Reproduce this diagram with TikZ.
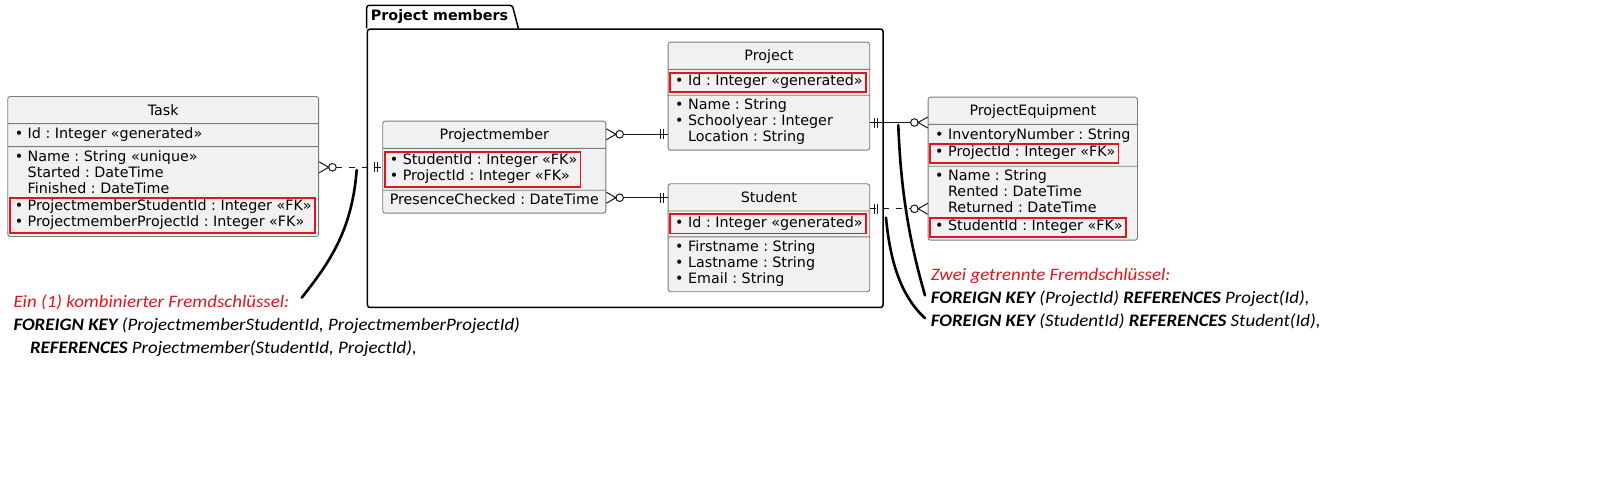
\documentclass[tikz,border=0pt]{standalone}
\usepackage{fontspec}
\setmainfont{DejaVu Sans}
\newfontfamily\notefont[FakeStretch=1.08]{Carlito}
\usetikzlibrary{shapes.multipart, positioning, calc}

\definecolor{boxfill}{HTML}{F1F1F1}
\definecolor{boxline}{HTML}{7A7A7A}
\definecolor{fkred}{HTML}{E3141C}
\definecolor{linkcol}{HTML}{181818}

\frenchspacing
\newcommand\mandatory[1]{\strut\makebox[13pt][l]{\textbullet}#1}
\newcommand\optional[1]{\strut\hspace*{13pt}#1}
\newcommand\plainrow[1]{\strut#1}
\newcommand\etitle[1]{\rule[-5pt]{0pt}{20.3pt}#1}
\newcommand\fkframe[1]{\hspace*{-5.7pt}{\fboxrule=1.8pt\fboxsep=0.7pt%
  \setbox0=\hbox{\fcolorbox{fkred}{boxfill}{\hspace*{3.2pt}\begin{tabular}[t]{@{}l@{}}#1\end{tabular}\hspace*{1.5pt}}}%
  \ht0=\dimexpr\ht0-1pt\relax \dp0=\dimexpr\dp0-1pt\relax \box0}\hspace*{-4pt}}

\tikzset{%
  entity/.style = {rectangle split, rectangle split parts=3, draw=boxline, fill=boxfill,
    line width=0.9pt, rounded corners=2.5pt, inner xsep=7pt, inner ysep=3pt, align=left,
    rectangle split part align={center,left,left},
    font={\fontsize{14.3}{16}\selectfont\lineskip=0pt}, anchor=north west},
  package/.style = {draw, line width=1.5pt, rounded corners=2.5pt, anchor=north west},
  link/.style = {draw=linkcol, line width=1pt},
  weak/.style = {link, dash pattern=on 6pt off 7pt},
  manystart/.style = {shorten <=17pt},
  manyend/.style = {shorten >=17pt},
  remark/.style = {draw, line width=2.6pt, line cap=round},
  note/.style = {font={\notefont\fontsize{17.5}{22}\selectfont\itshape}, inner xsep=5.7pt,
    inner ysep=0pt, text height=15pt, text depth=7.5pt, anchor=north west},
  pics/zeromany/.style = {code={\draw[link] (0,-5.5) -- (9.5,0) -- (0,5.5)
    (13.3,0) circle[radius=3.8pt];}},
  pics/exactlyone/.style = {code={\draw[link] (-4.5,-5) -- (-4.5,5) (-7.7,-5) -- (-7.7,5);}}
}

\begin{document}
\begin{tikzpicture}[x=1pt, y=-1pt]
    \fill[white] (0,0) rectangle (1622,499);
    \useasboundingbox (0,0) rectangle (1622,499);

    % package frame
    \node (pkg) [package, minimum width=515.6pt, minimum height=278.4pt] at (366.7,28.3) {};
    \node (pkgtitle) [anchor=south west, inner xsep=4pt, minimum height=22.6pt,
      font={\bfseries\fontsize{14.3}{16}\selectfont}] at (pkg.north west) {Project members};
    \draw[line width=1.5pt, rounded corners=2.5pt] (pkg.north west) -- (pkgtitle.north west)
      -- (pkgtitle.north east) -- ([xshift=6pt]pkgtitle.south east);

    % entities
    \node (task) [entity] at (7.3,96) {\etitle{Task}
      \nodepart{two} \mandatory{Id : Integer «generated»}
      \nodepart{three} \mandatory{Name : String «unique»}\\
        \optional{Started : DateTime}\\
        \optional{Finished : DateTime}\\
        \fkframe{\mandatory{ProjectmemberStudentId : Integer «FK»}\\
          \mandatory{ProjectmemberProjectId : Integer «FK»}}};
    \node (pm) [entity] at (382.3,120.7) {\etitle{Projectmember}
      \nodepart{two} \fkframe{\mandatory{StudentId : Integer «FK»}\\
          \mandatory{ProjectId : Integer «FK»}}
      \nodepart{three} \plainrow{PresenceChecked : DateTime}};
    \node (project) [entity] at (667.7,41.7) {\etitle{Project}
      \nodepart{two} \fkframe{\mandatory{Id : Integer «generated»}}
      \nodepart{three} \mandatory{Name : String}\\
        \mandatory{Schoolyear : Integer}\\
        \optional{Location : String}};
    \node (student) [entity] at (667.7,183.3) {\etitle{Student}
      \nodepart{two} \fkframe{\mandatory{Id : Integer «generated»}}
      \nodepart{three} \mandatory{Firstname : String}\\
        \mandatory{Lastname : String}\\
        \mandatory{Email : String}};
    \node (pe) [entity] at (927.7,96.7) {\etitle{ProjectEquipment}
      \nodepart{two} \mandatory{InventoryNumber : String}\\
        \fkframe{\mandatory{ProjectId : Integer «FK»}}
      \nodepart{three} \mandatory{Name : String}\\
        \optional{Rented : DateTime}\\
        \optional{Returned : DateTime}\\
        \fkframe{\mandatory{StudentId : Integer «FK»}}};

    % relations
    \coordinate (taskpm) at ($(task.north east)+(0,71.3)$);
    \coordinate (pmproj) at ($(pm.north east)+(0,13.6)$);
    \coordinate (pmstud) at ($(pm.north east)+(0,77)$);
    \coordinate (projpe) at ($(project.north east)+(0,80.8)$);
    \coordinate (studpe) at ($(student.north east)+(0,25.5)$);

    \draw[weak, manystart] (taskpm) -- (taskpm -| pm.west);
    \draw[link, manystart] (pmproj) -- (pmproj -| project.west);
    \draw[link, manystart] (pmstud) -- (pmstud -| student.west);
    \draw[link, manyend] (projpe) -- (projpe -| pe.west);
    \draw[weak, manyend] (studpe) -- (studpe -| pe.west);

    \pic at (taskpm) {zeromany};
    \pic at (pmproj) {zeromany};
    \pic at (pmstud) {zeromany};
    \pic[rotate=180] at (projpe -| pe.west) {zeromany};
    \pic[rotate=180] at (studpe -| pe.west) {zeromany};
    \pic at (taskpm -| pm.west) {exactlyone};
    \pic at (pmproj -| project.west) {exactlyone};
    \pic at (pmstud -| student.west) {exactlyone};
    \pic[rotate=180] at (projpe) {exactlyone};
    \pic[rotate=180] at (studpe) {exactlyone};

    % notes
    \node (lnoteTitle) [note, text=fkred] at (7.6,292) {Ein (1) kombinierter Fremdschlüssel:};
    \node (lnoteKey) [note, below right=0pt and 0pt of lnoteTitle.south west]
      {\textbf{FOREIGN KEY} (ProjectmemberStudentId, ProjectmemberProjectId)};
    \node (lnoteRef) [note, below right=0pt and 0pt of lnoteKey.south west]
      {\hspace*{16.5pt}\textbf{REFERENCES} Projectmember(StudentId, ProjectId),};
    \node (rnoteTitle) [note, text=fkred] at (925,265) {Zwei getrennte Fremdschlüssel:};
    \node (rnoteProject) [note, below right=0pt and 0pt of rnoteTitle.south west]
      {\textbf{FOREIGN KEY} (ProjectId) \textbf{REFERENCES} Project(Id),};
    \node (rnoteStudent) [note, below right=0pt and 0pt of rnoteProject.south west]
      {\textbf{FOREIGN KEY} (StudentId) \textbf{REFERENCES} Student(Id),};

    \coordinate (combstart) at (356.7,170);
    \coordinate (projkeystart) at (898.3,125);
    \coordinate (studkeystart) at (886,217.7);
    \draw[remark] (combstart) .. controls (352,230) and (330,262) .. ($(lnoteTitle.north east)+(6.6,5.7)$);
    \draw[remark] (projkeystart) .. controls (901,200) and (912,250) .. ([yshift=4pt]rnoteProject.west);
    \draw[remark] (studkeystart) .. controls (890,260) and (900,295) .. ([yshift=4pt]rnoteStudent.west);
\end{tikzpicture}
\end{document}
